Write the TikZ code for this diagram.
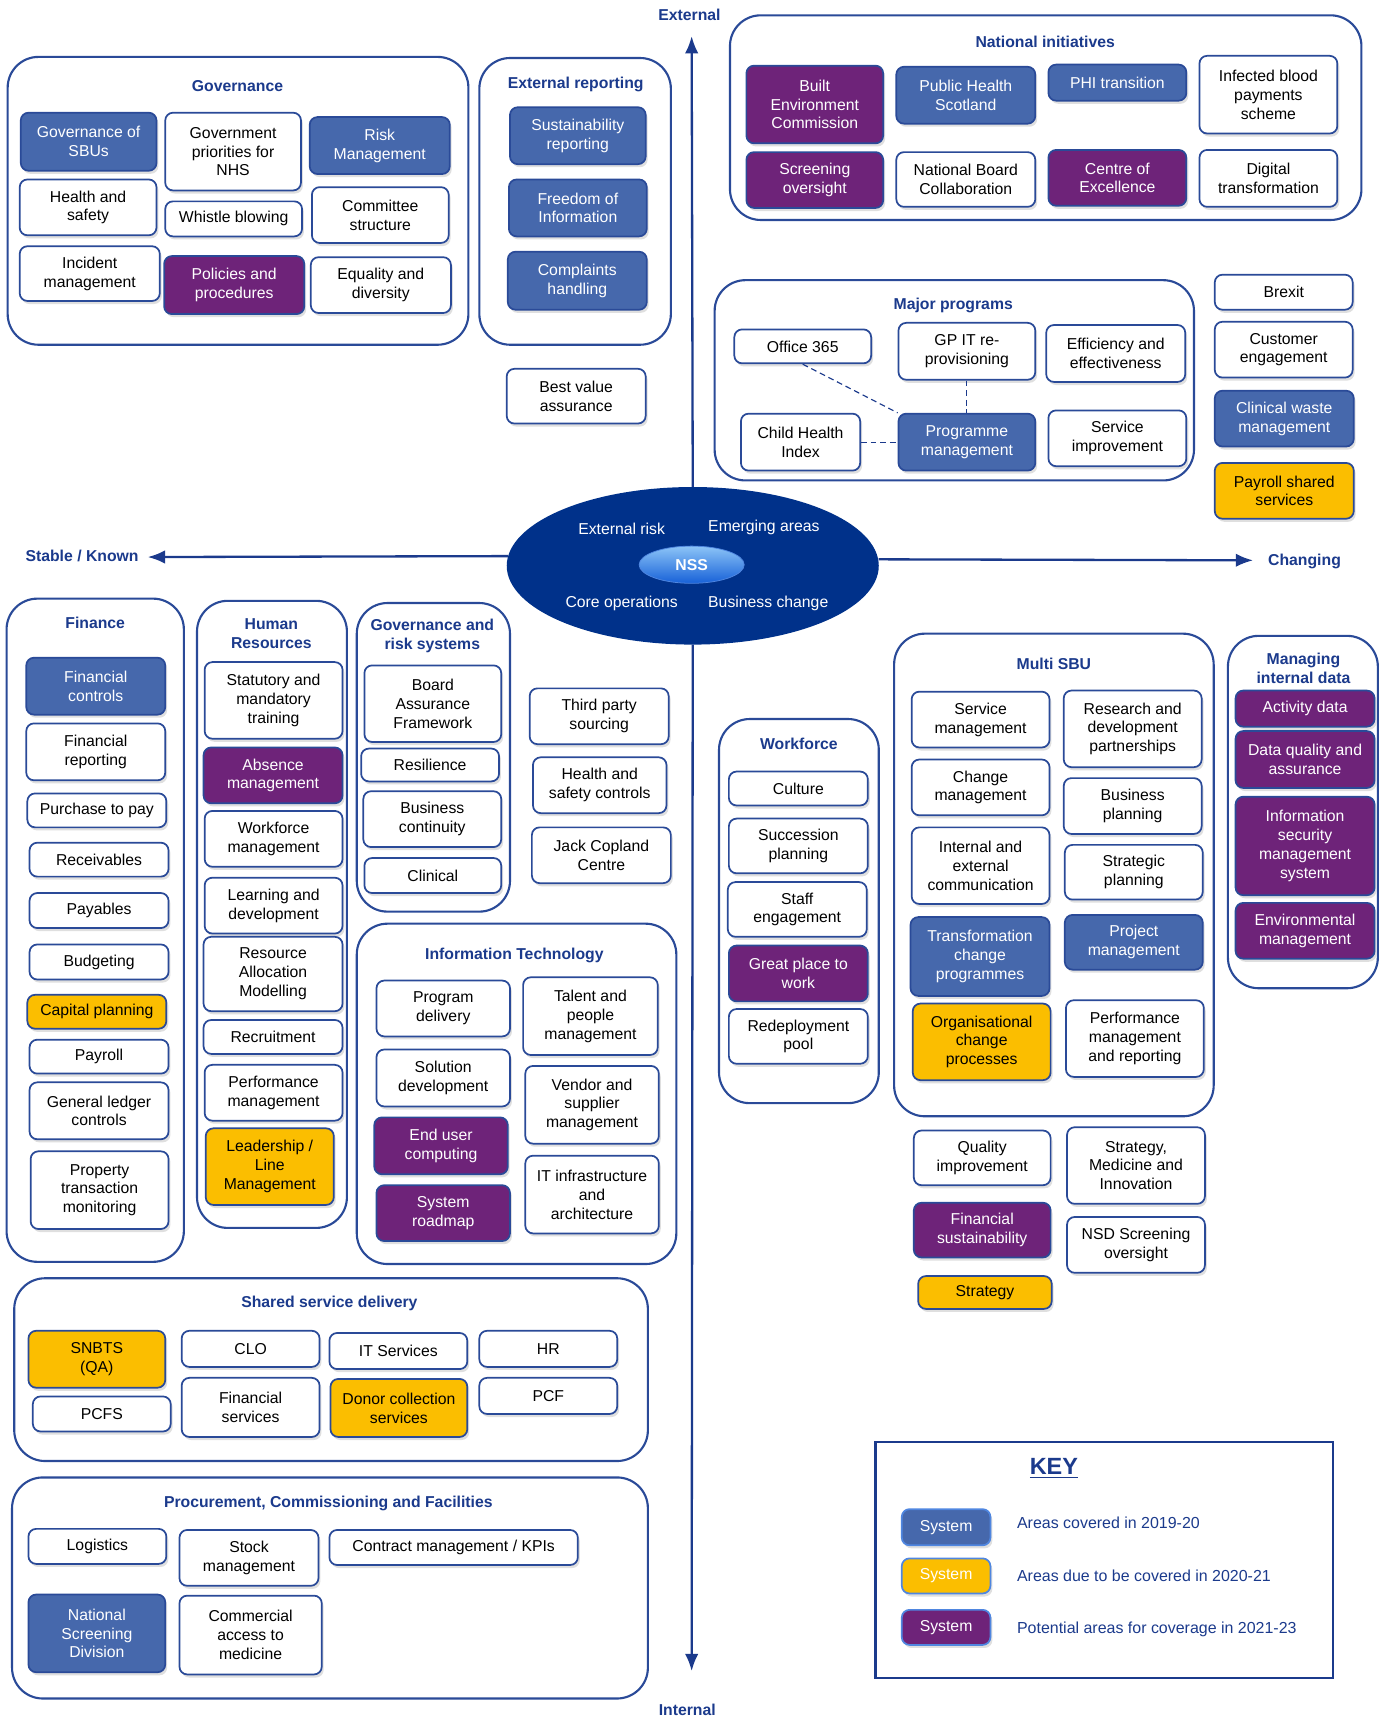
\documentclass[tikz,border=0pt]{standalone}
\usepackage{fontspec}
\setmainfont{Liberation Sans}
\usetikzlibrary{arrows.meta,shapes.geometric,shadows}
\definecolor{sNavy}{HTML}{1B3A8C}
\definecolor{sLine}{HTML}{2A4A98}
\definecolor{sDeep}{HTML}{00318A}
\definecolor{sBlue}{HTML}{4668AC}
\definecolor{sPurple}{HTML}{6E2379}
\definecolor{sYellow}{HTML}{FBBE00}
\definecolor{sSky}{HTML}{8CC4F7}
\definecolor{sAzure}{HTML}{1761D8}
\definecolor{sEdge}{HTML}{4F86E0}

\begin{document}
\begin{tikzpicture}[x=0.02cm,y=0.02cm,yscale=-1,>={Latex[length=9pt,width=7pt]}]
		\tikzset{cell/.style n args={4}{at={({(#1+#3)/2},{(#2+#4)/2})}, minimum width={(#3-#1)*0.02cm}, minimum height={(#4-#2)*0.02cm}}}
		\tikzstyle{BOX} = [draw=sLine, line width=0.9pt, rounded corners=4pt, inner sep=0pt, align=center, font=\fontsize{8.2}{9.8}\selectfont, drop shadow={shadow xshift=1pt, shadow yshift=-1.6pt, opacity=0.25}]
		\tikzstyle{area} = [BOX, fill=white, text=black]
		\tikzstyle{cov} = [BOX, fill=sBlue, text=white]
		\tikzstyle{due} = [BOX, fill=sYellow, text=black]
		\tikzstyle{pot} = [BOX, fill=sPurple, text=white]
		\tikzstyle{keybox} = [BOX, draw=sEdge, text=white]
		\tikzstyle{GROUP} = [draw=sLine, line width=1.1pt, rounded corners=16pt, inner sep=0pt, fill=white]
		\tikzstyle{head} = [text=sNavy, align=center, font=\bfseries\fontsize{8.2}{10}\selectfont]
		\tikzstyle{axisline} = [draw=sNavy, line width=1.2pt, ->]
		\tikzstyle{dlink} = [draw=sNavy, densely dashed, line width=0.6pt]
		\tikzstyle{core} = [text=white, font=\fontsize{8.2}{9.8}\selectfont]
		\tikzstyle{keytext} = [text=sNavy, anchor=west, inner sep=0pt, font=\fontsize{8.3}{9.8}\selectfont]

		\useasboundingbox (0,0) rectangle (1261,1568);

		% axes
		\coordinate (extTip) at (632,33);
		\coordinate (intTip) at (632,1527);
		\coordinate (stabTip) at (135,509);
		\coordinate (chgTip) at (1145,512);
		\node[head] (extLbl) at (630,14) {External};
		\node[head] (intLbl) at (628,1562) {Internal};
		\node[head] (stabLbl) at (75,508) {Stable / Known};
		\node[head] (chgLbl) at (1192,513) {Changing};

		% Governance
		\node[GROUP, cell={7}{52}{428}{315}] (govGrp) {};
		\node[head] (govT) at (217,79) {Governance};
		\node[cov, cell={19}{103}{143}{156}] (govSBU) {Governance of\\SBUs};
		\node[area, cell={151}{103}{275}{174}] (govPri) {Government\\priorities for\\NHS};
		\node[cov, cell={283}{107}{411}{159}] (riskMan) {Risk\\Management};
		\node[area, cell={18}{164}{143}{215}] (hSafe) {Health and\\safety};
		\node[area, cell={151}{184}{276}{216}] (whistle) {Whistle blowing};
		\node[area, cell={285}{171}{410}{222}] (committee) {Committee\\structure};
		\node[area, cell={18}{225}{146}{275}] (incident) {Incident\\management};
		\node[pot, cell={150}{234}{278}{287}] (policies) {Policies and\\procedures};
		\node[area, cell={284}{235}{412}{286}] (equality) {Equality and\\diversity};

		% External reporting
		\node[GROUP, cell={438}{53}{613}{315}] (extGrp) {};
		\node[head] (extT) at (526,77) {External reporting};
		\node[cov, cell={466}{98}{590}{150}] (sustain) {Sustainability\\reporting};
		\node[cov, cell={465}{164}{591}{216}] (foi) {Freedom of\\Information};
		\node[cov, cell={464}{230}{591}{283}] (complaints) {Complaints\\handling};
		\node[area, cell={463}{337}{590}{387}] (bestVal) {Best value\\assurance};

		% National initiatives
		\node[GROUP, cell={667}{14}{1244}{201}] (natGrp) {};
		\node[head] (natT) at (955,38) {National initiatives};
		\node[pot, cell={682}{60}{807}{131}] (builtEnv) {Built\\Environment\\Commission};
		\node[cov, cell={819}{61}{946}{113}] (phs) {Public Health\\Scotland};
		\node[cov, cell={958}{59}{1084}{92}] (phi) {PHI transition};
		\node[area, cell={1096}{51}{1222}{122}] (infected) {Infected blood\\payments\\scheme};
		\node[pot, cell={682}{139}{807}{190}] (screenOv) {Screening\\oversight};
		\node[area, cell={819}{139}{946}{189}] (natBoard) {National Board\\Collaboration};
		\node[pot, cell={958}{137}{1084}{188}] (coe) {Centre of\\Excellence};
		\node[area, cell={1096}{137}{1222}{189}] (digital) {Digital\\transformation};

		% Major programs
		\node[GROUP, cell={653}{256}{1091}{439}] (majGrp) {};
		\node[head] (majT) at (871,279) {Major programs};
		\node[area, cell={671}{301}{796}{332}] (office) {Office 365};
		\node[area, cell={821}{295}{946}{347}] (gpIT) {GP IT re-\\provisioning};
		\node[area, cell={956}{297}{1083}{349}] (effic) {Efficiency and\\effectiveness};
		\node[area, cell={677}{378}{786}{430}] (childH) {Child Health\\Index};
		\node[cov, cell={821}{378}{946}{430}] (progMan) {Programme\\management};
		\node[area, cell={958}{375}{1084}{426}] (servImp) {Service\\improvement};
		\draw[dlink] (office.south) -- (progMan.north west);
		\draw[dlink] (gpIT.south) -- (progMan.north);
		\draw[dlink] (childH.east) -- (progMan.west);

		% right column
		\node[area, cell={1110}{251}{1236}{283}] (brexit) {Brexit};
		\node[area, cell={1110}{294}{1236}{345}] (customer) {Customer\\engagement};
		\node[cov, cell={1110}{357}{1237}{408}] (clinWaste) {Clinical waste\\management};
		\node[due, cell={1110}{423}{1237}{474}] (payShared) {Payroll shared\\services};

		% Finance
		\node[GROUP, cell={6}{547}{168}{1153}] (finGrp) {};
		\node[head] (finT) at (87,569) {Finance};
		\node[cov, cell={24}{601}{151}{653}] (finCtrl) {Financial\\controls};
		\node[area, cell={24}{661}{151}{713}] (finRep) {Financial\\reporting};
		\node[area, cell={25}{725}{152}{756}] (p2p) {Purchase to pay};
		\node[area, cell={27}{770}{154}{801}] (receiv) {Receivables};
		\node[area, cell={27}{816}{154}{848}] (payables) {Payables};
		\node[area, cell={27}{863}{154}{895}] (budget) {Budgeting};
		\node[due, cell={25}{909}{152}{940}] (capPlan) {Capital planning};
		\node[area, cell={27}{950}{154}{981}] (payroll) {Payroll};
		\node[area, cell={27}{989}{154}{1041}] (genLedger) {General ledger\\controls};
		\node[area, cell={28}{1052}{154}{1123}] (property) {Property\\transaction\\monitoring};

		% Human Resources
		\node[GROUP, cell={180}{549}{317}{1122}] (hrGrp) {};
		\node[head] (hrT) at (248,579) {Human\\Resources};
		\node[area, cell={187}{605}{313}{675}] (statTrain) {Statutory and\\mandatory\\training};
		\node[pot, cell={186}{683}{313}{734}] (absence) {Absence\\management};
		\node[area, cell={187}{741}{313}{792}] (workMan) {Workforce\\management};
		\node[area, cell={187}{802}{313}{853}] (learnDev) {Learning and\\development};
		\node[area, cell={186}{856}{313}{924}] (resAlloc) {Resource\\Allocation\\Modelling};
		\node[area, cell={186}{932}{313}{963}] (recruit) {Recruitment};
		\node[area, cell={187}{973}{313}{1024}] (perfMan) {Performance\\management};
		\node[due, cell={188}{1031}{305}{1101}] (leader) {Leadership /\\Line\\Management};

		% Governance and risk systems
		\node[GROUP, cell={326}{551}{466}{833}] (grsGrp) {};
		\node[head] (grsT) at (395,581) {Governance and\\risk systems};
		\node[area, cell={333}{608}{458}{678}] (baf) {Board\\Assurance\\Framework};
		\node[area, cell={330}{684}{456}{714}] (resil) {Resilience};
		\node[area, cell={332}{723}{458}{774}] (busCont) {Business\\continuity};
		\node[area, cell={333}{784}{458}{816}] (clinical) {Clinical};

		\node[area, cell={484}{629}{611}{680}] (thirdParty) {Third party\\sourcing};
		\node[area, cell={487}{692}{609}{743}] (hsCtrl) {Health and\\safety controls};
		\node[area, cell={486}{756}{613}{807}] (jackCop) {Jack Copland\\Centre};

		% Information Technology
		\node[GROUP, cell={326}{844}{618}{1155}] (itGrp) {};
		\node[head] (itT) at (470,873) {Information Technology};
		\node[area, cell={344}{896}{466}{947}] (progDel) {Program\\delivery};
		\node[area, cell={344}{959}{466}{1011}] (solDev) {Solution\\development};
		\node[pot, cell={342}{1021}{464}{1073}] (endUser) {End user\\computing};
		\node[pot, cell={344}{1083}{466}{1134}] (sysRoad) {System\\roadmap};
		\node[area, cell={478}{893}{601}{964}] (talent) {Talent and\\people\\management};
		\node[area, cell={480}{974}{602}{1045}] (vendor) {Vendor and\\supplier\\management};
		\node[area, cell={480}{1056}{602}{1127}] (itInfra) {IT infrastructure\\and\\architecture};

		% Workforce
		\node[GROUP, cell={657}{657}{803}{1008}] (wfGrp) {};
		\node[head] (wfT) at (730,680) {Workforce};
		\node[area, cell={666}{705}{793}{736}] (culture) {Culture};
		\node[area, cell={666}{748}{793}{798}] (succession) {Succession\\planning};
		\node[area, cell={665}{806}{792}{856}] (staffEng) {Staff\\engagement};
		\node[pot, cell={666}{864}{793}{915}] (greatPlace) {Great place to\\work};
		\node[area, cell={666}{922}{793}{972}] (redeploy) {Redeployment\\pool};

		% Multi SBU
		\node[GROUP, cell={817}{579}{1109}{1020}] (sbuGrp) {};
		\node[head] (sbuT) at (963,607) {Multi SBU};
		\node[area, cell={833}{632}{959}{683}] (servMan) {Service\\management};
		\node[area, cell={833}{694}{959}{745}] (changeMan) {Change\\management};
		\node[area, cell={833}{756}{959}{826}] (intExt) {Internal and\\external\\communication};
		\node[cov, cell={832}{838}{959}{910}] (transform) {Transformation\\change\\programmes};
		\node[due, cell={834}{917}{960}{987}] (orgChange) {Organisational\\change\\processes};
		\node[area, cell={972}{631}{1098}{701}] (rnd) {Research and\\development\\partnerships};
		\node[area, cell={972}{711}{1098}{762}] (busPlan) {Business\\planning};
		\node[area, cell={973}{772}{1099}{822}] (stratPlan) {Strategic\\planning};
		\node[cov, cell={973}{836}{1099}{886}] (projMan) {Project\\management};
		\node[area, cell={974}{914}{1100}{984}] (perfRep) {Performance\\management\\and reporting};

		\node[area, cell={835}{1033}{960}{1083}] (quality) {Quality\\improvement};
		\node[area, cell={975}{1030}{1101}{1100}] (stratMI) {Strategy,\\Medicine and\\Innovation};
		\node[pot, cell={835}{1099}{960}{1149}] (finSust) {Financial\\sustainability};
		\node[area, cell={975}{1112}{1101}{1163}] (nsdScreen) {NSD Screening\\oversight};
		\node[due, cell={839}{1166}{961}{1196}] (strategy) {Strategy};

		% Managing internal data
		\node[GROUP, cell={1122}{581}{1259}{903}] (midGrp) {};
		\node[head] (midT) at (1191,611) {Managing\\internal data};
		\node[pot, cell={1129}{631}{1256}{664}] (activity) {Activity data};
		\node[pot, cell={1129}{668}{1256}{720}] (dataQual) {Data quality and\\assurance};
		\node[pot, cell={1129}{728}{1256}{818}] (infoSec) {Information\\security\\management\\system};
		\node[pot, cell={1129}{825}{1256}{876}] (environ) {Environmental\\management};

		% Shared service delivery
		\node[GROUP, cell={13}{1168}{592}{1335}] (ssdGrp) {};
		\node[head] (ssdT) at (301,1191) {Shared service delivery};
		\node[due, cell={26}{1216}{151}{1268}] (snbts) {SNBTS\\(QA)};
		\node[area, cell={30}{1276}{156}{1308}] (pcfs) {PCFS};
		\node[area, cell={166}{1216}{292}{1249}] (clo) {CLO};
		\node[area, cell={166}{1259}{292}{1313}] (finServ) {Financial\\services};
		\node[area, cell={301}{1218}{427}{1251}] (itServ) {IT Services};
		\node[due, cell={302}{1260}{427}{1313}] (donor) {Donor collection\\services};
		\node[area, cell={438}{1216}{564}{1249}] (hrServ) {HR};
		\node[area, cell={438}{1259}{564}{1292}] (pcf) {PCF};

		% Procurement, Commissioning and Facilities
		\node[GROUP, cell={11}{1350}{592}{1552}] (pcfGrp) {};
		\node[head] (pcfT) at (300,1374) {Procurement, Commissioning and Facilities};
		\node[area, cell={26}{1397}{152}{1429}] (logistics) {Logistics};
		\node[area, cell={164}{1398}{291}{1449}] (stock) {Stock\\management};
		\node[area, cell={301}{1398}{528}{1430}] (contract) {Contract management / KPIs};
		\node[cov, cell={26}{1457}{151}{1528}] (nsd) {National\\Screening\\Division};
		\node[area, cell={164}{1458}{294}{1530}] (commercial) {Commercial\\access to\\medicine};

		% centre
		\draw[axisline] (633,445) -- (extTip);
		\draw[axisline] (633,589) -- (intTip);
		\node[ellipse, fill=sDeep, minimum width=6.8cm, minimum height=2.88cm, inner sep=0pt] (nss) at (633,517) {};
		\draw[axisline] (nss.177) -- (stabTip);
		\draw[axisline] (nss.2) -- (chgTip);
		\node[ellipse, top color=sSky, bottom color=sAzure, draw=sEdge, line width=0.4pt, minimum width=1.92cm, minimum height=0.68cm, inner sep=0pt, text=white, font=\bfseries\fontsize{8.2}{9.8}\selectfont] (nssBtn) at (632,516) {NSS};
		\node[core] (extRisk) at (568,483) {External risk};
		\node[core] (emerging) at (698,482) {Emerging areas};
		\node[core] (coreOps) at (568,551) {Core operations};
		\node[core] (busChange) at (702,551) {Business change};

		% key
		\node[draw=sNavy, line width=1.1pt, inner sep=0pt, cell={800}{1318}{1218}{1533}] (keyFrame) {};
		\node[text=sNavy, font=\bfseries\fontsize{12.2}{14}\selectfont] (keyT) at (963,1342) {\underline{KEY}};
		\node[keybox, fill=sBlue, cell={824}{1379}{905}{1412}] (keyCov) {System};
		\node[keybox, fill=sYellow, cell={824}{1424}{905}{1456}] (keyDue) {System};
		\node[keybox, fill=sPurple, cell={824}{1471}{905}{1503}] (keyPot) {System};
		\node[keytext] (keyCovT) at (929,1391) {Areas covered in 2019-20};
		\node[keytext] (keyDueT) at (929,1440) {Areas due to be covered in 2020-21};
		\node[keytext] (keyPotT) at (929,1489) {Potential areas for coverage in 2021-23};
\end{tikzpicture}
\end{document}
